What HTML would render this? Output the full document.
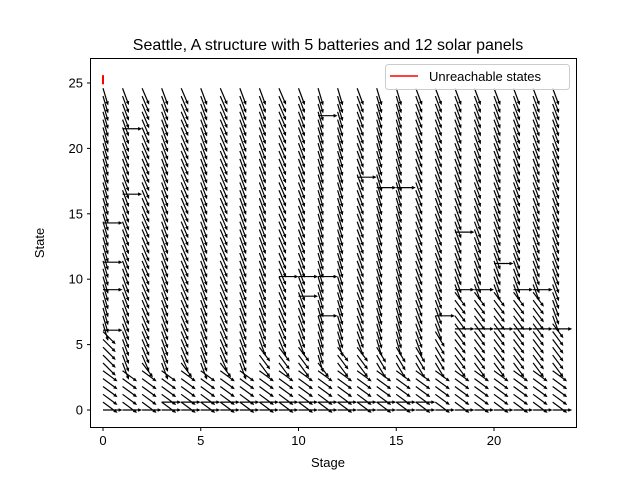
<!DOCTYPE html>
<html><head><meta charset="utf-8"><style>
body{margin:0;background:#fff;}
svg{display:block;font-family:"Liberation Sans","DejaVu Sans",sans-serif;}
</style></head><body>
<svg id="c" width="640" height="480">
<rect x="0" y="0" width="640" height="480" fill="#fff"/>
<text x="328" y="50" font-size="16" text-anchor="middle">Seattle, A structure with 5 batteries and 12 solar panels</text>
<g id="marks"></g>
<rect x="90.5" y="58.5" width="486" height="369" fill="none" stroke="#000" stroke-width="1"/>
<g id="axes"></g>
<text x="328" y="467" font-size="13" text-anchor="middle">Stage</text>
<text x="0" y="0" font-size="13" text-anchor="middle" transform="translate(44,243) rotate(-90)">State</text>
<g>
<rect x="385.5" y="64.5" width="184" height="25" rx="3" fill="#fff" fill-opacity="0.8" stroke="#ccc"/>
<line x1="390" y1="76" x2="418" y2="76" stroke="#ff0000" stroke-width="1.6"/>
<text x="429" y="81" font-size="13">Unreachable states</text>
</g>
</svg>
<script>
const stages=[0,1,2,3,4,5,6,7,8,9,10,11,12,13,14,15,16,17,18,19,20,21,22,23];
const steepAbove=[6,3,4,3,4,3,4,3,5,5,5,4,5,5,5,5,5,6,9,9,9,9,9,7];
const midDy=[-1.5,-2,-2,-2.5,-2,-2.5,-2,-2,-2,-2,-2,-2,-2,-2,-2.5,-2.5,-2.5,-2.5,-2,-2,-2,-2,-2,-2];
const highDy=[-5,-4,-3.5,-4,-3.5,-4,-3.5,-4,-4,-3.5,-4,-5,-5,-4,-5,-5,-4,-4,-4,-4,-4,-4,-4,-4];
const hStage=[0,0,0,0,1,1,11,13,14,15,10,11,9,10,11,18,18,19,20,21,22,17,18,19,20,21,22,23,3,4,5,6,7,8,9,10,11,12,13,14,15,16,0,1,2,3,4,5,6,7,8,9,10,11,12,13,14,15,16,17,18,19,20,21,22,23];
const hState=[14.3,11.3,9.2,6.1,21.5,16.5,22.5,17.8,17,17,10.2,10.2,10.2,8.7,7.2,13.6,9.2,9.2,11.2,9.2,9.2,7.2,6.2,6.2,6.2,6.2,6.2,6.2,0.6,0.6,0.6,0.6,0.6,0.6,0.6,0.6,0.6,0.6,0.6,0.6,0.6,0.6,0,0,0,0,0,0,0,0,0,0,0,0,0,0,0,0,0,0,0,0,0,0,0,0];
const statesMax=25, stateStep=0.6;
const X=v=>103+v*19.55, Y=v=>410-v*13.08;
const NS="http://www.w3.org/2000/svg";
const marks=document.getElementById('marks'), axes=document.getElementById('axes');
function arrow(x0,y0,dx,dy,full){
  let px=dx*19.55, py=-dy*13.08;
  if(!full){const L=Math.hypot(px,py);px=px/L*18;py=py/L*18;}
  const x1=X(x0)+px,y1=Y(y0)+py,L=Math.hypot(px,py),ux=px/L,uy=py/L;
  const g=document.createElementNS(NS,'g');
  
  
  const l=document.createElementNS(NS,'line');
  l.setAttribute('x1',X(x0));l.setAttribute('y1',Y(y0));l.setAttribute('x2',x1-ux*2.5);l.setAttribute('y2',y1-uy*2.5);
  l.setAttribute('stroke','#000');l.setAttribute('stroke-width','1.2');
  const h=document.createElementNS(NS,'polygon');
  const bx=x1-ux*4,by=y1-uy*4;
  h.setAttribute('points',`${x1},${y1} ${bx-uy*1.8},${by+ux*1.8} ${bx+uy*1.8},${by-ux*1.8}`);
  h.setAttribute('fill','#000');
  g.appendChild(l);g.appendChild(h);marks.appendChild(g);
}
stages.forEach((t,i)=>{
  for(let s=stateStep;s<=statesMax+1e-9;s+=stateStep){
    let dy=s<=3?-1.1:(s<steepAbove[i]?midDy[i]:highDy[i]);
    arrow(t,s,1,dy,false);
  }
});
hStage.forEach((t,i)=>arrow(t,hState[i],1,0,true));
const red=document.createElementNS(NS,'line');
red.setAttribute('x1',X(0));red.setAttribute('x2',X(0));red.setAttribute('y1',Y(25.6));red.setAttribute('y2',Y(24.9));
red.setAttribute('stroke','#ff0000');red.setAttribute('stroke-width','2');


marks.appendChild(red);
const xt=[0,5,10,15,20], yt=[0,5,10,15,20,25];
xt.forEach(v=>{
  const l=document.createElementNS(NS,'line');l.setAttribute('x1',X(v));l.setAttribute('x2',X(v));l.setAttribute('y1',427.5);l.setAttribute('y2',431);l.setAttribute('stroke','#000');
  
  
  axes.appendChild(l);
  const t=document.createElementNS(NS,'text');t.setAttribute('x',X(v));t.setAttribute('y',445);t.setAttribute('font-size','13');t.setAttribute('text-anchor','middle');t.textContent=v;
  
  
  axes.appendChild(t);
});
yt.forEach(v=>{
  const l=document.createElementNS(NS,'line');l.setAttribute('x1',87);l.setAttribute('x2',90.5);l.setAttribute('y1',Y(v));l.setAttribute('y2',Y(v));l.setAttribute('stroke','#000');
  
  
  axes.appendChild(l);
  const t=document.createElementNS(NS,'text');t.setAttribute('x',83);t.setAttribute('y',Y(v)+4.5);t.setAttribute('font-size','13');t.setAttribute('text-anchor','end');t.textContent=v;
  
  
  axes.appendChild(t);
});
</script>
</body></html>
